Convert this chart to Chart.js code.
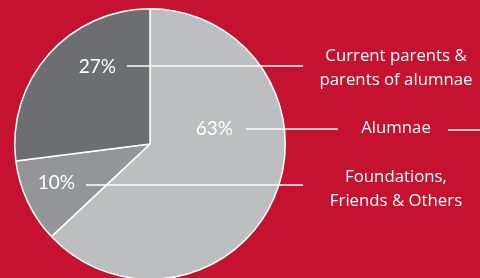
<!DOCTYPE html>
<html>
<head>
<meta charset="utf-8">
<script src="https://cdn.jsdelivr.net/npm/chart.js@4"></script>
<style>
  html, body { margin: 0; padding: 0; background: #c41230; overflow: hidden; }
  #wrap { position: relative; width: 480px; height: 280px; }
</style>
</head>
<body>
<div id="wrap"><canvas id="c"></canvas></div>
<script>
// ---- data ----
const categories = ['Alumnae', 'Foundations, Friends & Others', 'Current parents & parents of alumnae'];
const categoryLines = [['Alumnae'], ['Foundations,', 'Friends & Others'], ['Current parents &', 'parents of alumnae']];
const values = [63, 10, 27];
const sliceColors = ['#bcbec0', '#939598', '#6d6e71'];

// ---- annotation layout (label placement, not data) ----
const layout = [
  { pctX: 233, pctY: 129, lineY: 129, lineFrom: 246, lineTo: 338, textY: [128], tailFrom: 448, tailTo: 480, tailY: 130 },
  { pctX: 75,  pctY: 183, lineY: 185, lineFrom: 86,  lineTo: 303, textY: [177, 201] },
  { pctX: 116, pctY: 67,  lineY: 66,  lineFrom: 127, lineTo: 303, textY: [56, 80] }
];
const textCenterX = 396;

const annotations = {
  id: 'annotations',
  afterDraw(chart) {
    const ctx = chart.ctx;
    const total = values.reduce((a, b) => a + b, 0);
    ctx.save();
    ctx.fillStyle = '#ffffff';
    ctx.strokeStyle = '#ffffff';
    ctx.lineWidth = 1.5;
    values.forEach((v, i) => {
      const L = layout[i];
      ctx.font = '19px Lato';
      ctx.textAlign = 'right';
      ctx.textBaseline = 'middle';
      ctx.fillText(Math.round(v / total * 100) + '%', L.pctX, L.pctY);
      ctx.beginPath();
      ctx.moveTo(L.lineFrom, L.lineY);
      ctx.lineTo(L.lineTo, L.lineY);
      if (L.tailFrom) {
        ctx.moveTo(L.tailFrom, L.tailY);
        ctx.lineTo(L.tailTo, L.tailY);
      }
      ctx.stroke();
      ctx.font = '16.8px "Open Sans"';
      ctx.textAlign = 'center';
      categoryLines[i].forEach((t, k) => ctx.fillText(t, textCenterX, L.textY[k]));
    });
    ctx.restore();
  }
};

new Chart(document.getElementById('c'), {
  type: 'pie',
  data: {
    labels: categories,
    datasets: [{
      data: values,
      backgroundColor: sliceColors,
      borderColor: '#ffffff',
      borderWidth: 1.5
    }]
  },
  options: {
    responsive: true,
    maintainAspectRatio: false,
    animation: false,
    layout: { padding: { top: 8, left: 14, right: 194, bottom: 0 } },
    plugins: { legend: { display: false }, tooltip: { enabled: false } }
  },
  plugins: [annotations]
});
</script>
</body>
</html>
